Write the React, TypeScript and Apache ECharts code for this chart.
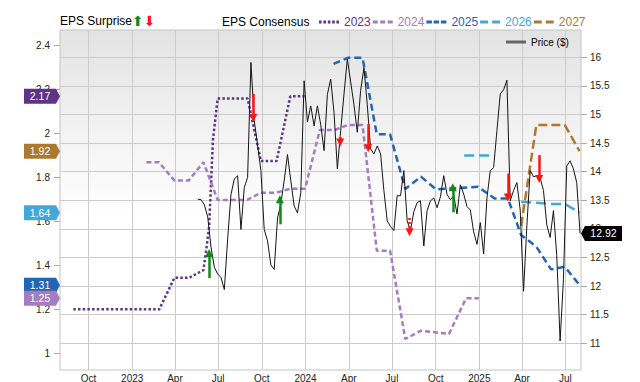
import React, { useEffect, useRef } from 'react';
import * as echarts from 'echarts';

const FONT = '"Liberation Sans", Arial, Helvetica, sans-serif';

// ---- axes ----
const xRange = ['2022-08-02', '2025-08-03'];
const quarterTicks = ['2022-10-01', '2023-01-01', '2023-04-01', '2023-07-01', '2023-10-01', '2024-01-01', '2024-04-01', '2024-07-01', '2024-10-01', '2025-01-01', '2025-04-01', '2025-07-01'];
const quarterLabels = ['Oct', '2023', 'Apr', 'Jul', 'Oct', '2024', 'Apr', 'Jul', 'Oct', '2025', 'Apr', 'Jul'];
const epsRange = [0.924, 2.4715];
const epsTicks = [1, 1.2, 1.4, 1.6, 1.8, 2, 2.2, 2.4];
const priceRange = [10.533, 16.477];
const priceTicks = [11, 11.5, 12, 12.5, 13, 13.5, 14, 14.5, 15, 15.5, 16];

// ---- EPS consensus series ----
const years = ['2023', '2024', '2025', '2026', '2027'];
const yearColors = ['#5e3388', '#a47cc0', '#2464b4', '#45a6d8', '#ab7a2e'];
const yearDashes = [[2.5, 2.2], [5, 3], [7, 4], [10, 5], [9, 4]];
const yearLegendIcons = [
  'path://M0 0h2.6v3H0zM4.4 0h2.6v3H4.4zM8.8 0h2.6v3H8.8zM13.2 0h2.6v3H13.2zM17.4 0h2.6v3H17.4z',
  'path://M0 0h5v3H0zM7.5 0h5v3H7.5zM15 0h5v3H15z',
  'path://M0 0h5.5v3H0zM7.25 0h5.5v3H7.25zM14.5 0h5.5v3H14.5z',
  'path://M0 0h8v3H0zM12 0h8v3H12z',
  'path://M0 0h8v3H0zM12 0h8v3H12z',
];

const eps2023Dates = ['2022-08-30', '2023-02-27', '2023-03-31', '2023-05-01', '2023-05-31', '2023-06-05', '2023-06-12', '2023-06-20', '2023-06-30', '2023-09-01', '2023-09-29', '2023-11-01', '2023-11-30', '2023-12-30'];
const eps2023Values = [1.2, 1.2, 1.344, 1.344, 1.379, 1.456, 1.575, 1.971, 2.16, 2.16, 1.875, 1.875, 2.17, 2.17];

const eps2024Dates = ['2023-01-31', '2023-02-26', '2023-03-31', '2023-04-30', '2023-05-31', '2023-06-30', '2023-08-31', '2023-09-29', '2023-10-31', '2023-11-30', '2023-12-31', '2024-01-31', '2024-03-02', '2024-03-30', '2024-04-30', '2024-05-30', '2024-06-27', '2024-07-29', '2024-08-31', '2024-10-29', '2024-12-04', '2024-12-31'];
const eps2024Values = [1.87, 1.87, 1.786, 1.786, 1.87, 1.698, 1.698, 1.731, 1.731, 1.749, 1.749, 2.016, 2.016, 2.039, 2.039, 1.467, 1.467, 1.065, 1.103, 1.088, 1.25, 1.25];

const eps2025Dates = ['2024-02-29', '2024-03-30', '2024-04-30', '2024-05-30', '2024-06-27', '2024-07-29', '2024-08-31', '2024-10-02', '2024-12-29', '2025-02-02', '2025-03-02', '2025-03-30', '2025-05-01', '2025-06-01', '2025-06-30', '2025-07-31'];
const eps2025Values = [2.317, 2.345, 2.345, 1.997, 1.997, 1.748, 1.804, 1.746, 1.758, 1.705, 1.705, 1.538, 1.485, 1.382, 1.394, 1.31];

const eps2026Dates = ['2024-11-30', '2025-01-29', '2025-02-14', '2025-03-30', '2025-05-01', '2025-06-01', '2025-06-30', '2025-07-31'];
const eps2026Values = [1.9, 1.9, null, 1.69, 1.685, 1.68, 1.68, 1.64];

const eps2027Dates = ['2025-03-30', '2025-05-01', '2025-06-30', '2025-07-31'];
const eps2027Values = [1.58, 2.039, 2.039, 1.92];

const epsDates = [eps2023Dates, eps2024Dates, eps2025Dates, eps2026Dates, eps2027Dates];
const epsValues = [eps2023Values, eps2024Values, eps2025Values, eps2026Values, eps2027Values];

// ---- weekly price ----
const priceStart = '2023-05-19';
const priceValues = [
  13.52, 13.51, 13.42, 13.21, 12.68, 12.33, 12.21, 12.15, 11.94, 12.82,
  13.60, 13.87, 13.93, 12.99, 13.72, 13.90, 15.91, 14.89, 14.47, 14.02,
  12.99, 12.79, 12.37, 12.29, 13.19, 13.44, 13.84, 14.30, 13.84, 13.40,
  13.28, 13.63, 15.59, 14.87, 15.15, 14.80, 15.15, 14.82, 14.37, 15.35,
  15.62, 15.03, 14.05, 14.72, 15.36, 15.97, 15.57, 15.17, 14.69, 15.42,
  15.82, 15.17, 14.40, 14.31, 14.45, 14.31, 13.67, 13.14, 13.04, 12.97,
  13.58, 13.58, 14.02, 13.14, 12.97, 13.30, 13.46, 13.49, 12.70, 13.32,
  13.49, 13.54, 13.37, 13.56, 13.93, 13.60, 13.51, 13.58, 13.26, 13.77,
  13.61, 13.39, 13.33, 12.95, 12.73, 13.11, 12.56, 13.54, 14.02, 14.07,
  14.72, 15.36, 15.43, 15.60, 13.49, 13.67, 13.81, 13.33, 11.91, 13.05,
  14.02, 13.91, 13.93, 13.89, 13.67, 13.07, 12.85, 13.32, 12.53, 11.04,
  12.11, 14.10, 14.19, 14.05, 13.81, 12.92,
];

// ---- EPS surprise arrows (price scale) ----
const surpriseDates = ['2023-06-12', '2023-09-13', '2023-11-08', '2024-03-14', '2024-05-12', '2024-08-07', '2024-11-06', '2025-03-02', '2025-05-07'];
const surpriseFrom = [12.14, 15.36, 13.08, 14.6, 14.83, 13.19, 13.29, 13.97, 14.29];
const surpriseTo = [12.58, 14.94, 13.52, 14.51, 14.41, 12.94, 13.73, 13.55, 13.87];
const surpriseDotted = [false, false, false, true, false, true, false, false, false];

const GREEN = '#11881a';
const RED = '#ff1414';

const ts = (s: string) => Date.parse(s);

export default function App() {
  const ref = useRef<HTMLDivElement>(null);
  useEffect(() => {
    if (!ref.current) return;
    const chart = echarts.init(ref.current, undefined, { renderer: 'svg' });
    const tickTs = quarterTicks.map(ts);
    const xMin = ts(xRange[0]);
    const xMax = ts(xRange[1]);
    const day = 86400000;
    const startT = ts(priceStart);
    const priceData = priceValues.map((v, i) => [startT + i * 7 * day, v]);
    const lastPrice = priceValues[priceValues.length - 1];

    const epsSeries = years.map((y, i) => {
      const vals = epsValues[i];
      const last = vals[vals.length - 1] as number;
      return {
        name: y,
        type: 'line',
        yAxisIndex: 0,
        symbol: 'none',
        showSymbol: false,
        connectNulls: false,
        z: 3,
        data: epsDates[i].map((d, j) => [ts(d), vals[j]]),
        lineStyle: { color: yearColors[i], width: 2.5, type: yearDashes[i], cap: 'butt' },
        itemStyle: { color: yearColors[i] },
        markPoint: {
          silent: true,
          z: i === 1 ? 7 : 6,
          symbol: 'path://M0 0H32L36 8L32 16H0Z',
          symbolSize: [36, 15],
          symbolKeepAspect: false,
          symbolOffset: [-18, 0],
          itemStyle: { color: yearColors[i] },
          label: {
            show: true,
            position: 'inside',
            offset: [-2, 0],
            color: '#ffffff',
            fontSize: 10.5,
            fontFamily: FONT,
            formatter: last.toFixed(2),
          },
          data: [{ coord: [xMin, last], value: last }],
        },
      };
    });

    chart.setOption({
      animation: false,
      backgroundColor: '#ffffff',
      textStyle: { fontFamily: FONT },
      title: [
        {
          text: 'EPS Surprise{g|⬆}{r|⬇}',
          left: 60,
          top: 14,
          padding: 0,
          textStyle: {
            fontSize: 12,
            fontWeight: 'normal',
            color: '#000',
            fontFamily: FONT,
            rich: {
              g: { color: GREEN, fontSize: 14, fontFamily: '"DejaVu Sans"' },
              r: { color: RED, fontSize: 14, fontFamily: '"DejaVu Sans"' },
            },
          },
        },
        {
          text: 'EPS Consensus',
          left: 222,
          top: 16,
          padding: 0,
          textStyle: { fontSize: 12, fontWeight: 'normal', color: '#000', fontFamily: FONT },
        },
      ],
      legend: [
        {
          left: 319,
          top: 16,
          padding: 0,
          itemWidth: 20,
          itemHeight: 10,
          itemGap: 2,
          symbolKeepAspect: true,
          selectedMode: false,
          itemStyle: { borderWidth: 0 },
          textStyle: { fontSize: 12, fontFamily: FONT },
          data: years.map((y, i) => ({ name: y, icon: yearLegendIcons[i], textStyle: { color: yearColors[i] } })),
        },
        {
          left: 506,
          top: 37,
          padding: 0,
          itemWidth: 20,
          itemHeight: 3,
          icon: 'rect',
          selectedMode: false,
          textStyle: { fontSize: 10, color: '#000', fontFamily: FONT },
          data: [{ name: 'Price ($)', itemStyle: { color: '#666666' } }],
        },
      ],
      grid: {
        left: 60,
        top: 30,
        width: 521,
        height: 340,
        show: true,
        outerBoundsMode: 'none',
        containLabel: false,
        borderColor: '#c4c4c4',
        borderWidth: 1,
        backgroundColor: new echarts.graphic.LinearGradient(0, 0, 0, 1, [
          { offset: 0, color: '#e3e3e3' },
          { offset: 0.55, color: '#ffffff' },
          { offset: 1, color: '#ffffff' },
        ]),
      },
      xAxis: {
        type: 'value',
        min: xMin,
        max: xMax,
        axisLine: { show: false },
        axisTick: { show: false, customValues: tickTs },
        axisLabel: {
          customValues: tickTs,
          fontSize: 10,
          color: '#222',
          margin: 3,
          fontFamily: FONT,
          formatter: (v: number) => {
            const k = tickTs.indexOf(v);
            return k >= 0 ? quarterLabels[k] : '';
          },
        },
        splitLine: { show: true, lineStyle: { color: '#cccccc', width: 1 } },
      },
      yAxis: [
        {
          type: 'value',
          position: 'left',
          min: epsRange[0],
          max: epsRange[1],
          axisLine: { show: false },
          axisTick: { show: true, length: 6, customValues: epsTicks, lineStyle: { color: '#aaaaaa' } },
          axisLabel: { customValues: epsTicks, fontSize: 10, color: '#222', margin: 10, fontFamily: FONT },
          splitLine: { show: false },
        },
        {
          type: 'value',
          position: 'right',
          min: priceRange[0],
          max: priceRange[1],
          axisLine: { show: false },
          axisTick: { show: true, length: 6, customValues: priceTicks, lineStyle: { color: '#aaaaaa' } },
          axisLabel: { customValues: priceTicks, fontSize: 10, color: '#222', margin: 9, fontFamily: FONT },
          splitLine: { show: true, lineStyle: { color: '#cccccc', width: 1 } },
        },
      ],
      series: [
        ...epsSeries,
        {
          name: 'Price ($)',
          type: 'line',
          yAxisIndex: 1,
          symbol: 'none',
          showSymbol: false,
          z: 4,
          data: priceData,
          lineStyle: { color: '#151515', width: 1 },
          itemStyle: { color: '#151515' },
          markPoint: {
            silent: true,
            z: 8,
            symbol: 'path://M4 0H41V16H4L0 8Z',
            symbolSize: [41, 15],
            symbolKeepAspect: false,
            symbolOffset: [20.5, 0],
            itemStyle: { color: '#000000' },
            label: {
              show: true,
              position: 'inside',
              offset: [2, 0],
              color: '#ffffff',
              fontSize: 10.5,
              fontFamily: FONT,
              formatter: lastPrice.toFixed(2),
            },
            data: [{ coord: [xMax, lastPrice], value: lastPrice }],
          },
        },
        {
          name: 'surprise',
          type: 'lines',
          coordinateSystem: 'cartesian2d',
          xAxisIndex: 0,
          yAxisIndex: 1,
          silent: true,
          z: 6,
          symbol: ['none', 'triangle'],
          symbolSize: 8,
          data: surpriseDates.map((d, i) => {
            const up = surpriseTo[i] > surpriseFrom[i];
            return {
              coords: [
                [ts(d), surpriseFrom[i]],
                [ts(d), surpriseTo[i]],
              ],
              lineStyle: { color: up ? GREEN : RED, width: 2.5, type: surpriseDotted[i] ? [2, 2] : 'solid', opacity: 1 },
            };
          }),
        },
      ],
    });
    return () => chart.dispose();
  }, []);
  return <div ref={ref} style={{ width: 640, height: 382, position: 'absolute', left: 0, top: 0 }} />;
}
